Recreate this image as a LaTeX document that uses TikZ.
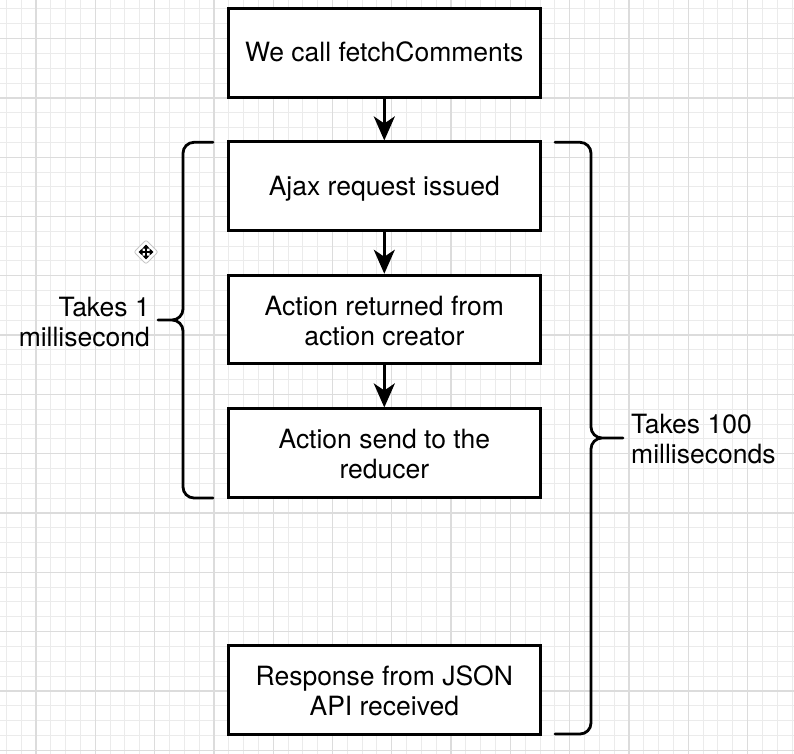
\documentclass[tikz,border=0pt]{standalone}
\usepackage{fontspec}
\setmainfont{TeX Gyre Heros}
\usetikzlibrary{arrows.meta,calc}
\definecolor{gridminor}{HTML}{EBEBEB}
\definecolor{gridmajor}{HTML}{DCDCDC}
\begin{document}
\begin{tikzpicture}[x=1bp,y=-1bp,
  box/.style={draw=black, line width=3bp, fill=white, minimum width=312bp, minimum height=88.5bp, inner sep=0pt},
  txt/.style={font=\fontsize{26.5bp}{30bp}\selectfont, align=center, inner sep=0pt, anchor=base},
  lbl/.style={font=\fontsize{26.5bp}{30bp}\selectfont, inner sep=0pt},
  flow/.style={line width=3bp, -{Stealth[length=24bp,width=21bp,inset=7bp]}},
  brace/.style={line width=2.8bp, rounded corners=11bp, line cap=round},
  tinyarrow/.style={line width=1.8bp, {Triangle[length=4bp,width=7bp]}-{Triangle[length=4bp,width=7bp]}}]
\useasboundingbox (0,0) rectangle (794,754);
\fill[white] (0,0) rectangle (794,754);
% grid
\foreach \i in {0,...,53} {
  \pgfmathsetmacro\gx{6.34+14.825*\i}
  \draw[gridminor, line width=1bp] (\gx,0) -- (\gx,754);
}
\foreach \i in {0,...,50} {
  \pgfmathsetmacro\gy{8.94+14.825*\i}
  \draw[gridminor, line width=1bp] (0,\gy) -- (794,\gy);
}
\foreach \i in {0,...,12} {
  \pgfmathsetmacro\gx{36+59.3*\i}
  \pgfmathsetmacro\gy{38.6+59.3*\i}
  \draw[gridmajor, line width=1.3bp] (\gx,0) -- (\gx,754);
  \draw[gridmajor, line width=1.3bp] (0,\gy) -- (794,\gy);
}
% boxes
\node[box] (b1) at (384.3,52.8) {};
\node[box] (b2) at (384.3,186.2) {};
\node[box] (b3) at (384.3,319.5) {};
\node[box] (b4) at (384.3,453.2) {};
\node[box] (b5) at (384.3,689.9) {};
\node[txt] (t1) at (384.3,62) {We call fetchComments};
\node[txt] (t2) at (384.3,195) {Ajax request issued};
\node[txt] (t3) at (384.3,345) {Action returned from\\action creator};
\node[txt] (t4) at (384.3,478.3) {Action send to the\\reducer};
\node[txt] (t5) at (384.3,715) {Response from JSON\\API received};
% arrows
\draw[flow] (b1.south) -- (b2.north);
\draw[flow] (b2.south) -- (b3.north);
\draw[flow] (b3.south) -- (b4.north);
% left brace
\coordinate (lbT) at (213,142.3);
\coordinate (lbB) at (213,498);
\coordinate (lbTip) at (158,320);
\draw[brace] (lbT) -- (183,142.3) -- (183,320) -- (lbTip)
             (lbTip) -- (183,320) -- (183,498) -- (lbB);
% right brace
\coordinate (rbT) at (555,142.3);
\coordinate (rbB) at (555,734);
\coordinate (rbTip) at (623,438);
\draw[brace] (rbT) -- (591,142.3) -- (591,438) -- (rbTip)
             (rbTip) -- (591,438) -- (591,734) -- (rbB);
% labels
\node[lbl, anchor=base east, align=right] (l1) at (150,346) {Takes 1\\millisecond};
\node[lbl, anchor=base west, align=left] (l2) at (631,463) {Takes 100\\milliseconds};
% move cursor
\fill[white, draw=black!22, line width=0.8bp, rounded corners=2bp] (146,240) -- (158,252) -- (146,264) -- (134,252) -- cycle;
\draw[tinyarrow] (138.5,252) -- (153.5,252);
\draw[tinyarrow] (146,244.5) -- (146,259.5);
\end{tikzpicture}
\end{document}
